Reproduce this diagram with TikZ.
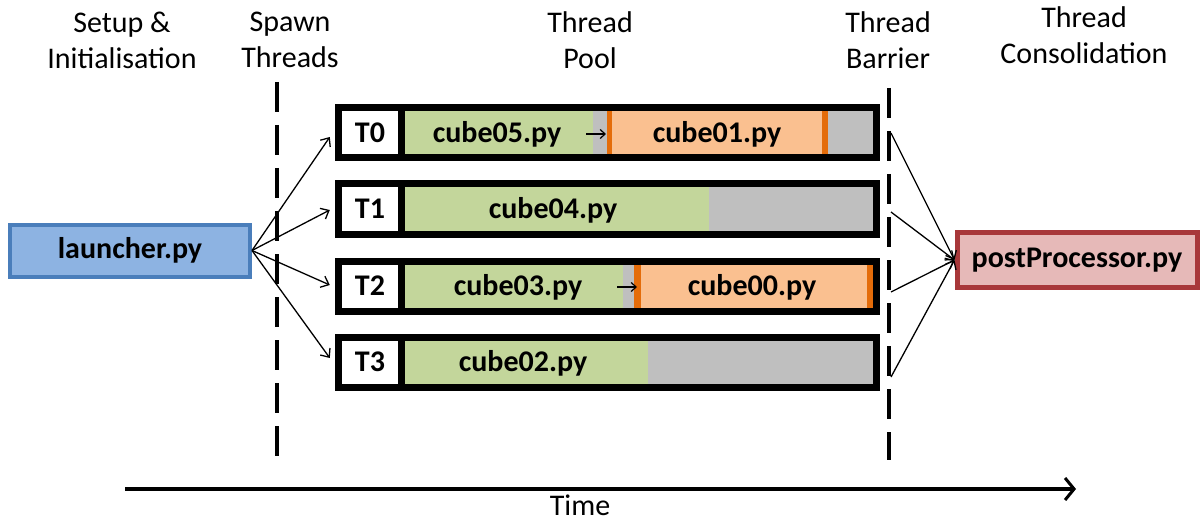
\documentclass[tikz,border=0pt]{standalone}
\usepackage{fontspec}
\setmainfont{Carlito}
\usetikzlibrary{arrows.meta}
\definecolor{cgreen}{HTML}{C3D69B}
\definecolor{cgrey}{HTML}{BFBFBF}
\definecolor{corange}{HTML}{FAC090}
\definecolor{cedge}{HTML}{E46C0A}
\definecolor{cblue}{HTML}{8DB3E2}
\definecolor{cblueedge}{HTML}{4A7EBB}
\definecolor{cred}{HTML}{E6B9B8}
\definecolor{crededge}{HTML}{A8383A}
\tikzset{
  hdr/.style={align=center, font=\fontsize{30}{36}\selectfont, inner sep=0pt},
  lbl/.style={font=\fontsize{30}{36}\selectfont\bfseries, inner sep=0pt},
  rowbox/.style={fill=black, minimum width=545pt, minimum height=57pt, inner sep=0pt},
  conn/.style={line width=1.3pt, -{Straight Barb[length=7pt,width=12pt,line width=1.3pt]}},
  barrier/.style={line width=3.5pt, dash pattern=on 30pt off 13pt},
}
\begin{document}
\begin{tikzpicture}[x=1pt,y=-1pt]
\useasboundingbox (0,0) rectangle (1203,524);
% headers
\node[hdr] (h1) at (122,40) {Setup \&\\Initialisation};
\node[hdr] (h2) at (290,40) {Spawn\\Threads};
\node[hdr] (h3) at (590,40) {Thread\\Pool};
\node[hdr] (h4) at (888,40) {Thread\\Barrier};
\node[hdr] (h5) at (1084,35) {Thread\\Consolidation};
% barriers
\coordinate (d1t) at (277,82); \coordinate (d1b) at (277,460);
\coordinate (d2t) at (889,88); \coordinate (d2b) at (889,460);
\draw[barrier] (d1t) -- (d1b);
\draw[barrier] (d2t) -- (d2b);
% rows
\foreach \i/\y in {0/133,1/209,2/286,3/362}{
  \node[rowbox] (T\i) at (607.5,\y) {};
  \fill[white] (342,\y-21.5) rectangle (398,\y+21.5);
  \node[lbl] (L\i) at (370,\y) {T\i};
}
% T0
\fill[cgreen] (405,133-21.5) rectangle (593,133+21.5);
\fill[cgrey] (593,133-21.5) rectangle (607,133+21.5);
\fill[cedge] (607,133-21.5) rectangle (612,133+21.5);
\fill[corange] (612,133-21.5) rectangle (822,133+21.5);
\fill[cedge] (822,133-21.5) rectangle (828,133+21.5);
\fill[cgrey] (828,133-21.5) rectangle (873,133+21.5);
\node[lbl] (c05) at (497,134) {cube05.py};
\node[lbl] (c01) at (717,134) {cube01.py};
% T1
\fill[cgreen] (405,209-21.5) rectangle (709,209+21.5);
\fill[cgrey] (709,209-21.5) rectangle (873,209+21.5);
\node[lbl] (c04) at (553,210) {cube04.py};
% T2
\fill[cgreen] (405,286-21.5) rectangle (623,286+21.5);
\fill[cgrey] (623,286-21.5) rectangle (634,286+21.5);
\fill[cedge] (634,286-21.5) rectangle (641,286+21.5);
\fill[corange] (641,286-21.5) rectangle (867,286+21.5);
\fill[cedge] (867,286-21.5) rectangle (873,286+21.5);
\node[lbl] (c03) at (518,287) {cube03.py};
\node[lbl] (c00) at (752,287) {cube00.py};
% T3
\fill[cgreen] (405,362-21.5) rectangle (648,362+21.5);
\fill[cgrey] (648,362-21.5) rectangle (873,362+21.5);
\node[lbl] (c02) at (523,363) {cube02.py};
% small arrows
\coordinate (s0) at (586,134); \coordinate (s0e) at (606,134);
\coordinate (s2) at (617,287); \coordinate (s2e) at (637,287);
\draw[line width=1.2pt, -{Straight Barb[length=5pt,width=9pt,line width=1.2pt]}] (s0) -- (s0e);
\draw[line width=1.2pt, -{Straight Barb[length=5pt,width=9pt,line width=1.2pt]}] (s2) -- (s2e);
% launcher
\node[draw=cblueedge, line width=4pt, fill=cblue, minimum width=240pt, minimum height=52pt, inner sep=0pt, lbl] (launcher) at (130,250.5) {launcher.py};
% postprocessor
\node[draw=crededge, line width=5pt, fill=cred, minimum width=240pt, minimum height=55pt, inner sep=0pt, lbl] (post) at (1077,260) {postProcessor.py};
% spawn arrows
\draw[conn] (launcher.east) -- ([xshift=-5pt,yshift=-4pt]T0.west);
\draw[conn] (launcher.east) -- ([xshift=-5pt,yshift=-1pt]T1.west);
\draw[conn] (launcher.east) -- ([xshift=-5pt,yshift=1pt]T2.west);
\draw[conn] (launcher.east) -- ([xshift=-5pt,yshift=4pt]T3.west);
% consolidation arrows
\coordinate (b0) at (891,133);
\coordinate (b1) at (891,212);
\coordinate (b2) at (891,292);
\coordinate (b3) at (891,377);
\foreach \k in {0,1,2,3}{
  \draw[conn] (b\k) -- (post.west);
}
% time
\coordinate (t0) at (125,489); \coordinate (t1) at (1076,489);
\draw[line width=3.5pt, -{Straight Barb[length=9pt,width=22pt,line width=3pt]}] (t0) -- (t1);
\node[font=\fontsize{30}{36}\selectfont, inner sep=0pt, anchor=base] (time) at (580,515) {Time};
\end{tikzpicture}
\end{document}
